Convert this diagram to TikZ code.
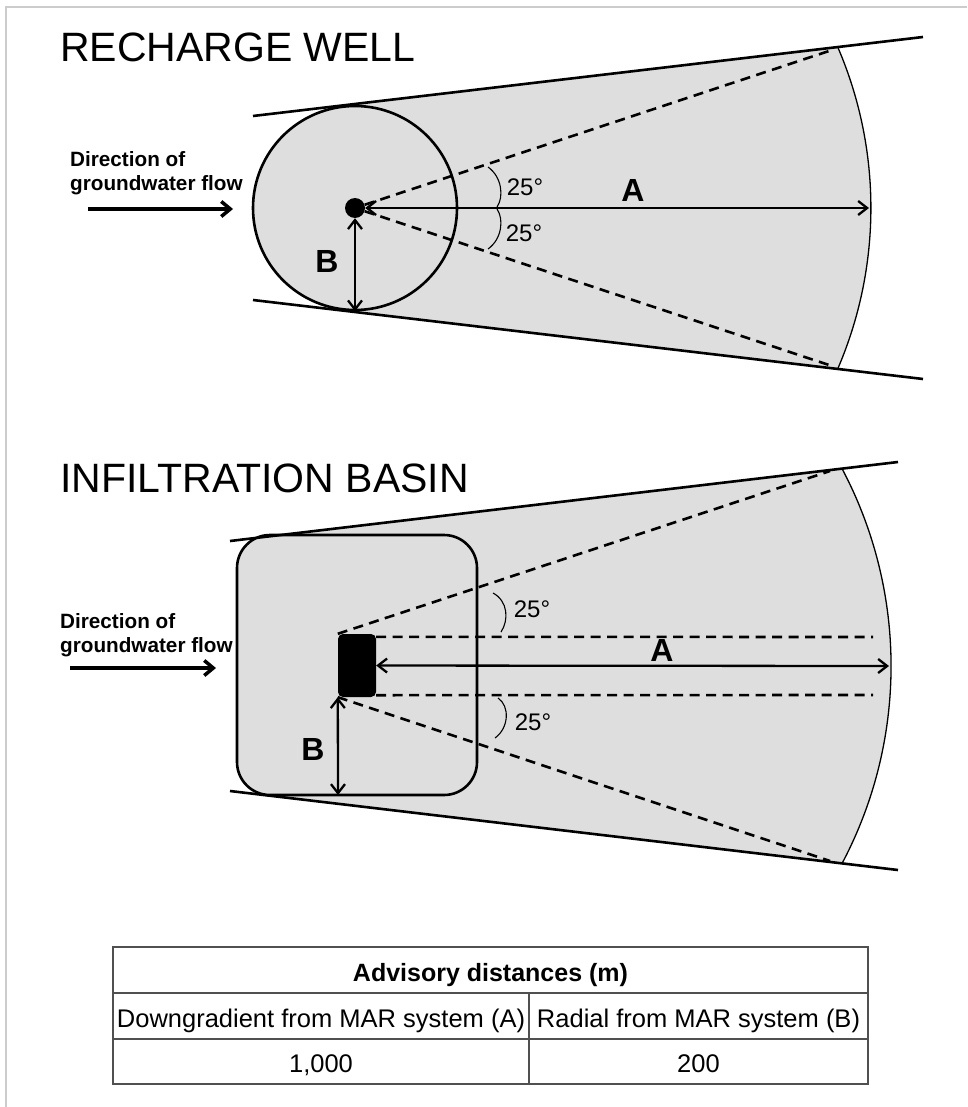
\documentclass[tikz,border=0pt]{standalone}
\usepackage{fontspec}
\setmainfont{Liberation Sans}
\usetikzlibrary{arrows.meta}
\definecolor{zonegray}{RGB}{222,222,222}
\definecolor{framegray}{RGB}{204,204,204}
\definecolor{rulegray}{RGB}{80,80,80}

\begin{document}
\begin{tikzpicture}[x=1pt,y=-1pt]
\tikzstyle{zone}=[fill=zonegray]
\tikzstyle{bound}=[line width=2.6pt]
\tikzstyle{rim}=[line width=1.3pt]
\tikzstyle{guide}=[line width=2.6pt,dash pattern=on 10pt off 6.5pt]
\tikzstyle{measure}=[line width=2.3pt,{Straight Barb[length=9pt,width=14pt]}-{Straight Barb[length=9pt,width=14pt]}]
\tikzstyle{flow}=[line width=3.5pt,-{Straight Barb[length=9pt,width=15pt]}]
\tikzstyle{bracket}=[line width=1.1pt]
\tikzstyle{title}=[font=\fontsize{41}{49}\selectfont,anchor=base west,inner sep=0pt]
\tikzstyle{flowtext}=[font=\bfseries\fontsize{20.7}{24}\selectfont,align=left,anchor=base west,inner sep=0pt]
\tikzstyle{letter}=[font=\bfseries\fontsize{32}{38}\selectfont,inner sep=0pt]
\tikzstyle{anglelabel}=[font=\fontsize{24}{28}\selectfont,inner sep=0pt]
\tikzstyle{cell}=[draw=rulegray,line width=1.3pt,font=\fontsize{25.5}{30}\selectfont,inner sep=0pt,text height=22pt,text depth=0pt,minimum height=46pt]
\tikzstyle{headcell}=[cell,font=\bfseries\fontsize{25}{30}\selectfont]

\useasboundingbox (0,0) rectangle (967,1107);
\draw[framegray,line width=1.5pt] (967,7) -- (6,7) -- (6,1107);

\node[title] (title1) at (60,62) {RECHARGE WELL};
\fill[zone] (343,105.4) -- (838,47.7) arc[start angle=-23.2,end angle=23.2,radius=406.8] -- (343,310.6) -- cycle;
\node[draw,circle,zone,bound,minimum size=204pt,inner sep=0pt] (zone1) at (355,208) {};
\draw[bound] (253,116) -- (923,37);
\draw[bound] (253,300) -- (923,379);
\draw[rim] (838,47.7) arc[start angle=-23.2,end angle=23.2,radius=406.8];
\node[circle,fill=black,minimum size=20pt,inner sep=0pt] (well) at (355,208) {};
\coordinate (a1) at (869,208);
\coordinate (d1u) at (832,50);
\coordinate (d1l) at (832,366);
\draw[guide] (well) -- (d1u);
\draw[guide] (well) -- (d1l);
\draw[measure] (well) -- (a1);
\draw[measure] (well) -- (zone1.south);
\draw[bracket] (488,167) .. controls (502,177) and (504,197) .. (497,207);
\draw[bracket] (497,209) .. controls (504,219) and (502,239) .. (488,249);
\node[anglelabel] (ang1u) at (525,187) {25°};
\node[anglelabel] (ang1l) at (524,233) {25°};
\node[letter] (lblA1) at (633,190) {A};
\node[letter] (lblB1) at (327,261) {B};
\node[flowtext] (flowtext1) at (70,191) {Direction of\\groundwater flow};
\coordinate (f1s) at (88,209);
\coordinate (f1e) at (233,209);
\draw[flow] (f1s) -- (f1e);

\node[title] (title2) at (60,492) {INFILTRATION BASIN};
\fill[zone] (270,536.3) -- (842,468.6) arc[start angle=-27.9,end angle=27.9,radius=422] -- (270,795.7) -- cycle;
\node[draw,zone,bound,rounded corners=33pt,minimum width=240pt,minimum height=260pt,inner sep=0pt] (zone2) at (357,665) {};
\draw[bound] (230,541) -- (898,462);
\draw[bound] (230,791) -- (898,870);
\draw[rim] (842,468.6) arc[start angle=-27.9,end angle=27.9,radius=422];
\node[fill=black,rounded corners=5pt,minimum width=38pt,minimum height=63pt,inner sep=0pt] (basin) at (357,665.5) {};
\coordinate (a2) at (889,666);
\coordinate (b2) at (338,795);
\coordinate (d2u) at (830,471);
\coordinate (d2l) at (830,861);
\coordinate (h2u) at (873,637);
\coordinate (h2l) at (873,695);
\draw[guide] (basin.north west) -- (d2u);
\draw[guide] (basin.south west) -- (d2l);
\draw[guide] ([yshift=-3pt]basin.north east) -- (h2u);
\draw[guide] ([yshift=2pt]basin.south east) -- (h2l);
\draw[measure] (basin) -- (a2);
\draw[measure] (basin.south west) -- (b2);
\draw[bracket] (493,593) .. controls (508,601) and (509,620) .. (501,632);
\draw[bracket] (498,698) .. controls (510,706) and (509,728) .. (495,738);
\node[anglelabel] (ang2u) at (532,609) {25°};
\node[anglelabel] (ang2l) at (533,722) {25°};
\node[letter] (lblA2) at (662,650) {A};
\node[letter] (lblB2) at (313,749) {B};
\node[flowtext] (flowtext2) at (60,652) {Direction of\\groundwater flow};
\coordinate (f2s) at (70,668);
\coordinate (f2e) at (216,668);
\draw[flow] (f2s) -- (f2e);

\node[headcell,minimum width=755pt] (head) at (490.5,970) {Advisory distances (m)};
\node[cell,minimum width=416pt] (colA) at (321,1016) {Downgradient from MAR system (A)};
\node[cell,minimum width=339pt] (colB) at (698.5,1016) {Radial from MAR system (B)};
\node[cell,minimum width=416pt,minimum height=45pt] (valA) at (321,1061.5) {1,000};
\node[cell,minimum width=339pt,minimum height=45pt] (valB) at (698.5,1061.5) {200};
\end{tikzpicture}
\end{document}
